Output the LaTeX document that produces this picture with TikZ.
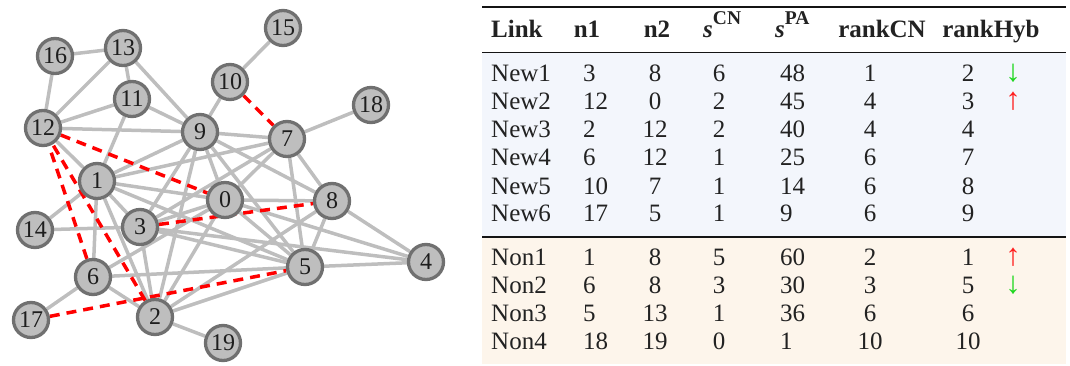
\documentclass[tikz,border=0pt]{standalone}
\usepackage{fontspec}
\setmainfont{Liberation Serif}
\usetikzlibrary{backgrounds}
\definecolor{edgegray}{RGB}{190,190,190}
\definecolor{nodefill}{RGB}{190,190,190}
\definecolor{nodeborder}{RGB}{112,112,112}
\definecolor{nodetext}{RGB}{30,30,30}
\definecolor{tabtext}{RGB}{34,34,34}
\definecolor{rulecol}{RGB}{20,20,20}
\definecolor{newbg}{RGB}{243,246,252}
\definecolor{nonbg}{RGB}{253,245,235}
\definecolor{upred}{RGB}{255,30,30}
\definecolor{downgreen}{RGB}{30,215,30}
\definecolor{dashred}{RGB}{255,0,0}
\tikzset{
  vtx/.style={circle, draw=nodeborder, fill=nodefill, line width=3.3pt,
    minimum size=35pt, inner sep=0pt, font=\fontsize{24}{24}\selectfont, text=nodetext},
  link/.style={draw=edgegray, line width=3.5pt},
  newlink/.style={draw=dashred, line width=3.5pt, dash pattern=on 10pt off 7pt},
  cell/.style={anchor=base, inner sep=0pt, font=\fontsize{25}{28}\selectfont, text=tabtext},
  lcell/.style={cell, anchor=base west},
  head/.style={cell, font=\fontsize{25}{28}\selectfont\bfseries},
  arrowcell/.style={cell, font=\fontsize{31}{31}\selectfont},
  tabrule/.style={draw=rulecol, line width=1.6pt}
}
\newcommand{\supt}[1]{\textbf{\textit{s}}\raisebox{13pt}{\fontsize{19.5}{20}\selectfont\textbf{#1}}}
\begin{document}
\begin{tikzpicture}[x=1pt,y=-1pt]
\useasboundingbox (0,0) rectangle (1070,366);
% ---------- graph nodes ----------
\node[vtx] (n0)  at (225,200) {0};
\node[vtx] (n1)  at (97,181)  {1};
\node[vtx] (n2)  at (155,317) {2};
\node[vtx] (n3)  at (140,227) {3};
\node[vtx] (n4)  at (426,262) {4};
\node[vtx] (n5)  at (305,267) {5};
\node[vtx] (n6)  at (93,277)  {6};
\node[vtx] (n7)  at (287,139) {7};
\node[vtx] (n8)  at (332,201) {8};
\node[vtx] (n9)  at (200,132) {9};
\node[vtx] (n10) at (230,82)  {10};
\node[vtx] (n11) at (132,99)  {11};
\node[vtx] (n12) at (43,128)  {12};
\node[vtx] (n13) at (123,48)  {13};
\node[vtx] (n14) at (35,230)  {14};
\node[vtx] (n15) at (283,28)  {15};
\node[vtx] (n16) at (55,56)   {16};
\node[vtx] (n17) at (31,320)  {17};
\node[vtx] (n18) at (371,105) {18};
\node[vtx] (n19) at (223,343) {19};
% ---------- graph edges ----------
\begin{scope}[on background layer]
\foreach \a/\b in {15/10,10/9,16/13,16/12,13/12,13/11,13/9,11/12,11/9,11/1,12/9,12/1,
  18/7,9/7,14/1,14/3,17/6,6/1,6/2,6/5,6/0,2/19,0/8,0/4,8/4,5/4,8/5,0/5,7/5,7/8,
  1/9,1/7,1/0,1/2,3/2,0/2,9/2,2/8,2/5,3/0,3/4,3/5,3/7,3/9,1/3,1/5,9/8,0/9,0/7,9/5}
  \draw[link] (n\a) -- (n\b);
\foreach \a/\b in {3/8,12/0,2/12,6/12,10/7,17/5}
  \draw[newlink] (n\a) -- (n\b);
\end{scope}
% ---------- table ----------
\fill[newbg] (482,53.5) rectangle (1066,236);
\fill[nonbg] (482,238) rectangle (1066,364);
\draw[tabrule] (482,7) -- (1066,7);
\draw[tabrule] (482,52.5) -- (1066,52.5);
\draw[tabrule] (482,237) -- (1066,237);
\node[head, anchor=base west] (hlink) at (491,38) {Link};
\node[head] (hn1) at (587,38) {n1};
\node[head] (hn2) at (657,38) {n2};
\node[cell, anchor=base west] (hcn) at (703,38) {\supt{CN}};
\node[cell, anchor=base west] (hpa) at (775,38) {\supt{PA}};
\node[head] (hrcn) at (882,38) {rankCN};
\node[head] (hrh) at (991,38) {rankHyb};
\foreach \lab/\a/\b/\c/\d/\e/\f/\y [count=\i] in {
  New1/3/8/6/48/1/2/82, New2/12/0/2/45/4/3/110, New3/2/12/2/40/4/4/138,
  New4/6/12/1/25/6/7/166, New5/10/7/1/14/6/8/194, New6/17/5/1/9/6/9/222,
  Non1/1/8/5/60/2/1/265, Non2/6/8/3/30/3/5/293, Non3/5/13/1/36/6/6/321,
  Non4/18/19/0/1/10/10/349}
{
  \node[lcell] (r\i l) at (491,\y) {\lab};
  \node[lcell] (r\i a) at (583,\y) {\a};
  \node[cell]  (r\i b) at (655,\y) {\b};
  \node[cell]  (r\i c) at (719,\y) {\c};
  \node[lcell] (r\i d) at (780,\y) {\d};
  \node[cell]  (r\i e) at (870,\y) {\e};
  \node[cell]  (r\i f) at (968,\y) {\f};
}
\node[arrowcell, text=downgreen] (ar1) at (1013,82)  {↓};
\node[arrowcell, text=upred]     (ar2) at (1013,110) {↑};
\node[arrowcell, text=upred]     (ar7) at (1013,265) {↑};
\node[arrowcell, text=downgreen] (ar8) at (1013,293) {↓};
\end{tikzpicture}
\end{document}
